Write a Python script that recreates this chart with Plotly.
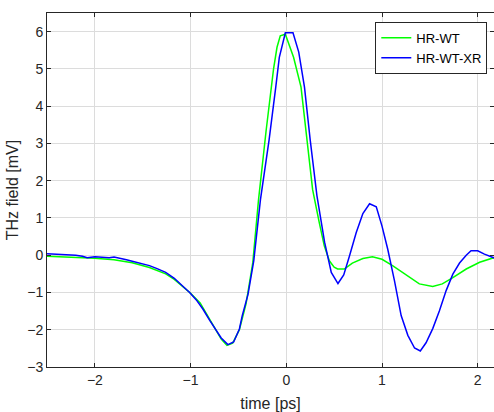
import plotly.graph_objects as go

# HR-WT (green)
t_wt = [-2.50, -2.30, -2.10, -2.00, -1.80, -1.61, -1.43, -1.26, -1.17, -1.08, -1.00,
        -0.90, -0.80, -0.74, -0.68, -0.62, -0.56, -0.49, -0.42, -0.35, -0.29, -0.21,
        -0.133, -0.097, -0.063, -0.01, 0.076, 0.154, 0.22, 0.275, 0.345, 0.397, 0.45,
        0.50, 0.536, 0.606, 0.69, 0.80, 0.90, 1.00, 1.11, 1.25, 1.39, 1.53, 1.63,
        1.74, 1.88, 2.02, 2.20]
v_wt = [-0.03, -0.05, -0.07, -0.08, -0.12, -0.20, -0.33, -0.50, -0.65, -0.85, -1.02,
        -1.28, -1.72, -2.02, -2.25, -2.42, -2.36, -2.00, -1.30, -0.20, 1.49, 3.36,
        5.00, 5.58, 5.89, 5.93, 5.31, 4.51, 3.09, 1.76, 0.87, 0.25, -0.15,
        -0.32, -0.37, -0.37, -0.21, -0.09, -0.04, -0.11, -0.28, -0.53, -0.77, -0.84, -0.77,
        -0.60, -0.37, -0.19, -0.04]

# HR-WT-XR (blue)
t_xr = [-2.50, -2.42, -2.34, -2.27, -2.20, -2.13, -2.08, -2.00, -1.93, -1.85, -1.80,
        -1.73, -1.67, -1.61, -1.52, -1.43, -1.35, -1.26, -1.17, -1.08, -1.01, -0.94,
        -0.87, -0.80, -0.74, -0.68, -0.61, -0.55, -0.49, -0.46, -0.40, -0.34, -0.27,
        -0.18, -0.11, -0.073, -0.01, 0.07, 0.13, 0.19, 0.25, 0.32, 0.40, 0.47, 0.54,
        0.60, 0.66, 0.73, 0.80, 0.87, 0.94, 1.00, 1.06, 1.13, 1.20, 1.27, 1.34, 1.40,
        1.46, 1.53, 1.60, 1.67, 1.74, 1.81, 1.88, 1.93, 2.00, 2.07, 2.20]
v_xr = [0.04, 0.03, 0.01, 0.02, 0.00, -0.03, -0.07, -0.04, -0.05, -0.07, -0.05,
        -0.08, -0.12, -0.16, -0.21, -0.28, -0.36, -0.46, -0.62, -0.84, -1.00, -1.20,
        -1.45, -1.75, -2.00, -2.22, -2.40, -2.33, -1.98, -1.62, -1.05, -0.15, 1.49,
        3.09, 4.51, 5.31, 5.97, 5.97, 5.45, 4.51, 3.09, 1.60, 0.35, -0.46, -0.76,
        -0.53, -0.02, 0.60, 1.12, 1.38, 1.30, 0.78, 0.16, -0.68, -1.62, -2.15, -2.49, -2.57,
        -2.35, -1.97, -1.49, -0.95, -0.51, -0.21, 0.00, 0.12, 0.12, 0.03, -0.10]

x_ticks = [-2, -1, 0, 1, 2]
y_ticks = [-3, -2, -1, 0, 1, 2, 3, 4, 5, 6]

FONT = "Liberation Sans, Arial, sans-serif"

fig = go.Figure()
fig.add_trace(go.Scatter(x=t_wt, y=v_wt, mode="lines", name="HR-WT",
                         line=dict(color="#00ff00", width=1.5)))
fig.add_trace(go.Scatter(x=t_xr, y=v_xr, mode="lines", name="HR-WT-XR",
                         line=dict(color="#0000ff", width=1.5)))

axis_common = dict(
    showgrid=True, gridcolor="#dcdcdc", gridwidth=1,
    showline=True, linecolor="#262626", linewidth=1,
    ticks="inside", ticklen=4, tickcolor="#262626",
    zeroline=False,
    tickfont=dict(family=FONT, size=14, color="#262626"),
)

fig.update_xaxes(range=[-2.5, 2.17], tickvals=x_ticks, mirror="ticks",
                 title=dict(text="time [ps]", standoff=11,
                            font=dict(family=FONT, size=16, color="#262626")),
                 **axis_common)
fig.update_yaxes(range=[-3, 6.5], tickvals=y_ticks, mirror="ticks",
                 title=dict(text="THz field [mV]", standoff=4,
                            font=dict(family=FONT, size=16, color="#262626")),
                 **axis_common)

fig.update_layout(
    width=494, height=412,
    margin=dict(l=47, r=0, t=13, b=45),
    paper_bgcolor="white", plot_bgcolor="white",
    showlegend=True,
    legend=dict(x=0.985, y=0.975, xanchor="right", yanchor="top",
                bgcolor="white", bordercolor="#262626", borderwidth=1,
                font=dict(family=FONT, size=13, color="#000000"),
                tracegroupgap=0, itemwidth=30),
)

fig.write_html("out.html", config={"displayModeBar": False},
               post_script="document.body.style.margin='0';")
